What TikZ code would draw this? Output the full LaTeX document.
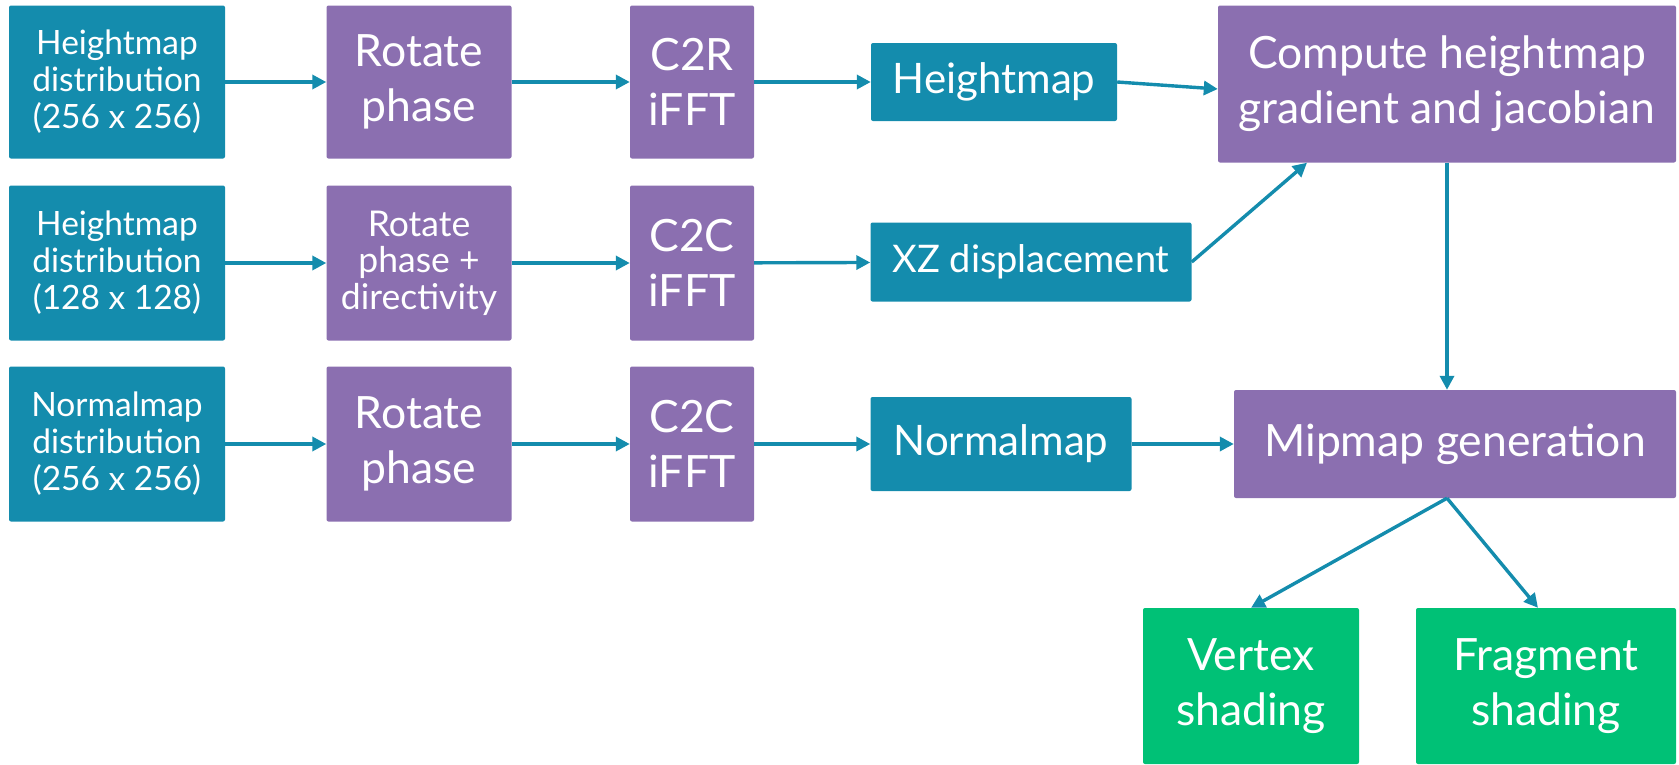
\documentclass[tikz,border=0pt]{standalone}
\usepackage{fontspec}
\setmainfont{Lato}
\usetikzlibrary{arrows.meta}
\definecolor{tealc}{HTML}{148CAD}
\definecolor{purplec}{HTML}{8B6FB0}
\definecolor{greenc}{HTML}{00C176}
\newcommand{\bigtxt}{\fontsize{44.5}{55}\selectfont}
\newcommand{\resulttxt}{\fontsize{42}{50}\selectfont}
\newcommand{\midtxt}{\fontsize{38}{46}\selectfont}
\newcommand{\smalltxt}{\fontsize{33.5}{37}\selectfont}
\newcommand{\dirtxt}{\fontsize{35.5}{36.5}\selectfont}
\tikzset{
  box/.style={rectangle, rounded corners=2pt, text=white, align=center, inner sep=0pt, font=\bigtxt},
  tealbox/.style={box, fill=tealc},
  purplebox/.style={box, fill=purplec},
  greenbox/.style={box, fill=greenc},
  small/.style={font=\smalltxt},
  flow/.style={draw=tealc, line width=3.4pt, -{Triangle[length=14pt,width=14pt]}},
}
\begin{document}
\begin{tikzpicture}[x=1pt, y=-1pt]
\useasboundingbox (0,0) rectangle (1679,764);
% input distributions
\node[tealbox, small, minimum width=216pt, minimum height=153pt] (a1) at (117,82) {Heightmap\\distribution\\(256 x 256)};
\node[tealbox, small, minimum width=216pt, minimum height=155pt] (a2) at (117,263) {Heightmap\\distribution\\(128 x 128)};
\node[tealbox, small, minimum width=216pt, minimum height=155pt] (a3) at (117,444) {Normalmap\\distribution\\(256 x 256)};
% phase rotation
\node[purplebox, minimum width=185pt, minimum height=153pt] (b1) at (419,82) {Rotate\\phase};
\node[purplebox, font=\dirtxt, minimum width=185pt, minimum height=155pt] (b2) at (419,263) {Rotate\\phase +\\directivity};
\node[purplebox, minimum width=185pt, minimum height=155pt] (b3) at (419,444) {Rotate\\phase};
% inverse FFTs
\node[purplebox, minimum width=124pt, minimum height=153pt] (c1) at (692,82) {C2R\\iFFT};
\node[purplebox, minimum width=124pt, minimum height=155pt] (c2) at (692,263) {C2C\\iFFT};
\node[purplebox, minimum width=124pt, minimum height=155pt] (c3) at (692,444) {C2C\\iFFT};
% results
\node[tealbox, font=\resulttxt, minimum width=246pt, minimum height=78pt] (d1) at (994,82) {Heightmap};
\node[tealbox, font=\midtxt, minimum width=321pt, minimum height=79pt] (d2) at (1031,262) {XZ displacement};
\node[tealbox, font=\resulttxt, minimum width=261pt, minimum height=94pt] (d3) at (1001,444) {Normalmap};
% post-processing
\node[purplebox, minimum width=458pt, minimum height=157pt] (e) at (1447,84) {Compute heightmap\\gradient and jacobian};
\node[purplebox, minimum width=442pt, minimum height=108pt] (f) at (1455,444) {Mipmap generation};
% shading stages
\node[greenbox, minimum width=216pt, minimum height=156pt] (g) at (1251,686) {Vertex\\shading};
\node[greenbox, minimum width=260pt, minimum height=156pt] (h) at (1546,686) {Fragment\\shading};
% connectors
\foreach \r in {1,2,3} {
  \draw[flow] (a\r) -- (b\r);
  \draw[flow] (b\r) -- (c\r);
  \draw[flow] (c\r) -- (d\r);
}
\draw[flow] (d1.east) -- ([yshift=-5pt]e.west);
\draw[flow] (d2.east) -- ([xshift=-140pt]e.south);
\draw[flow] (e.south) -- (e.south |- f.north);
\draw[flow] (d3.east) -- (f.west);
\draw[flow] (e.south |- f.south) -- (g.north);
\draw[flow] (e.south |- f.south) -- ([xshift=-8pt]h.north);
\end{tikzpicture}
\end{document}
